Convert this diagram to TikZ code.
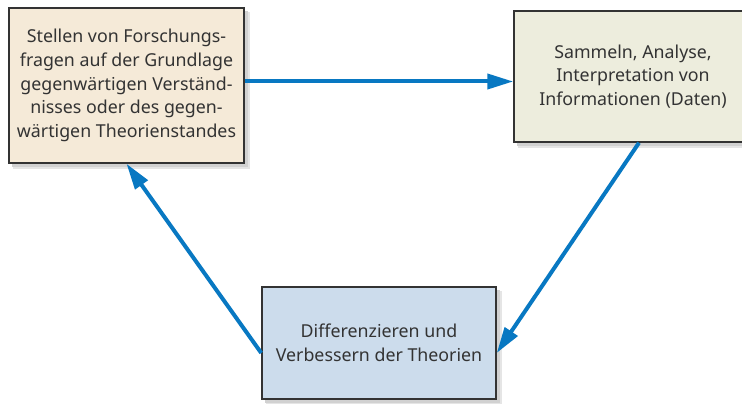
\documentclass[tikz,border=0pt]{standalone}
\usepackage{fontspec}
\setmainfont{Noto Sans}
\usetikzlibrary{arrows.meta,calc}
\definecolor{arrblue}{HTML}{0878C2}
\definecolor{fillL}{HTML}{F5EAD8}
\definecolor{fillR}{HTML}{EDEDDD}
\definecolor{fillB}{HTML}{CCDCEC}
\definecolor{txt}{HTML}{333333}
\definecolor{bord}{HTML}{333333}
\tikzset{
  box/.style={draw=bord, line width=1.5pt, inner sep=0pt, align=center,
    text=txt, font=\fontsize{17.8}{23.7}\selectfont},
  arr/.style={draw=arrblue, line width=4pt, -{Triangle[length=26pt,width=15pt]}}
}
\begin{document}
\begin{tikzpicture}[x=1pt,y=-1pt]
\useasboundingbox (0,0) rectangle (742,404);
\begin{scope}
\clip (0,0) rectangle (742,404);
% shadows
\fill[black!10] (13,12) rectangle (250,169);
\fill[black!18] (12,11) rectangle (248,167);
\fill[black!10] (518,15) rectangle (758,148);
\fill[black!18] (517,14) rectangle (756,146);
\fill[black!10] (266,291) rectangle (502,404);
\fill[black!18] (265,290) rectangle (500,403);
% boxes
\node[box, fill=fillL, minimum width=235pt, minimum height=155pt] (L) at (126.5,85.5)
  {Stellen von Forschungs-\\fragen auf der Grundlage\\gegenwärtigen Verständ-\\nisses oder des gegen-\\wärtigen Theorienstandes};
\node[box, fill=fillR, minimum width=238pt, minimum height=131pt] (R) at (633,76.5)
  {Sammeln, Analyse,\\Interpretation von\\Informationen (Daten)};
\node[box, fill=fillB, minimum width=234pt, minimum height=112pt] (B) at (379,343)
  {Differenzieren und\\Verbessern der Theorien};
\end{scope}
% arrows
\coordinate (a1) at ([yshift=4pt]L.east);
\draw[arr] (a1) -- (a1 -| R.west);
\draw[arr] ([xshift=6pt]R.south) -- ([yshift=-10pt]B.east);
\draw[arr] ([yshift=-10pt]B.west) -- (L.south);
\end{tikzpicture}
\end{document}
